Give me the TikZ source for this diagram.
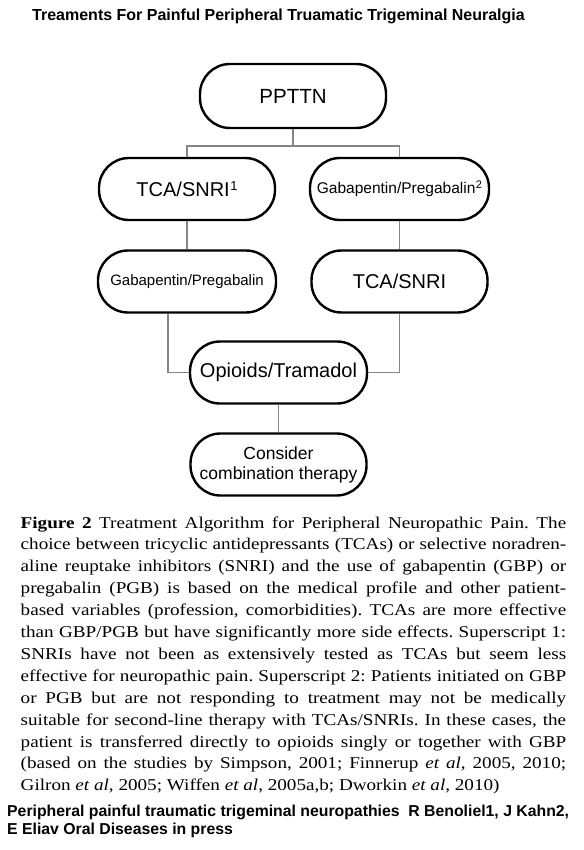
\documentclass[tikz,border=0pt]{standalone}
\usepackage{fontspec}
\setmainfont{Liberation Serif}
\newfontfamily\arialf{Liberation Sans}
\newfontfamily\capf[FakeStretch=1.16]{Liberation Serif}
\newcommand\jl[1]{\makebox[545.5pt][s]{#1}}
\newcommand\supnum[2]{\raisebox{#2}{\fontsize{#1}{#1}\selectfont 1}}
\newcommand\supnumtwo[2]{\raisebox{#2}{\fontsize{#1}{#1}\selectfont 2}}
\frenchspacing
\begin{document}
\begin{tikzpicture}[x=1pt,y=-1pt,
  pill/.style={draw=black, line width=2.4pt, rounded corners=30pt, fill=white,
    minimum height=62pt, inner sep=0pt, align=center,
    font=\arialf\fontsize{20}{24}\selectfont},
  conn/.style={draw=black!48, line width=1.3pt},
  sanstext/.style={anchor=base west, inner sep=0pt, font=\arialf\bfseries\fontsize{15.8}{18}\selectfont},
  captext/.style={anchor=base west, inner sep=0pt, font=\capf\fontsize{16.5}{20}\selectfont}]
\useasboundingbox (0,0) rectangle (583,850);
\fill[white] (0,0) rectangle (583,850);

\node[sanstext, font=\arialf\bfseries\fontsize{16}{18}\selectfont] (title) at (32,21) {Treaments For Painful Peripheral Truamatic Trigeminal Neuralgia};

\node[pill, minimum width=186pt, minimum height=64pt, font=\arialf\fontsize{20.5}{24}\selectfont] (ppttn) at (293,96) {PPTTN};
\node[pill, minimum width=176pt] (tca1) at (187,189) {TCA/SNRI\kern0.5pt\supnum{13}{6pt}};
\node[pill, minimum width=179pt, font=\arialf\fontsize{15.5}{18}\selectfont] (gab1) at (399.5,189) {Gabapentin/Pregabalin\kern0.5pt\supnumtwo{11}{4.5pt}};
\node[pill, minimum width=178pt, font=\arialf\fontsize{15}{18}\selectfont] (gab2) at (187,281.5) {Gabapentin/Pregabalin};
\node[pill, minimum width=176pt] (tca2) at (399.5,281.5) {TCA/SNRI};
\node[pill, minimum width=177pt] (opi) at (278.5,372.5) {Opioids/Tramadol};
\node[pill, minimum width=176pt, font=\arialf\fontsize{17.5}{20}\selectfont] (cons) at (278.5,464.5) {Consider\\combination therapy};

\coordinate (j1) at (293,146);
\draw[conn] (ppttn.south) -- (j1);
\draw[conn] (tca1.north) |- (j1) -| (gab1.north);
\draw[conn] (tca1.south) -- (gab2.north);
\draw[conn] (gab1.south) -- (tca2.north);
\draw[conn] ([xshift=-19pt]gab2.south) |- (opi.west);
\draw[conn] (tca2.south) |- (opi.east);
\draw[conn] (opi.south) -- (cons.north);

\node[captext] (c1) at (20.5,528) {\jl{\textbf{Figure 2} Treatment Algorithm for Peripheral Neuropathic Pain. The}};
\node[captext] (c2) at (20.5,549.9) {\jl{choice between tricyclic antidepressants (TCAs) or selective noradren-}};
\node[captext] (c3) at (20.5,571.8) {\jl{aline reuptake inhibitors (SNRI) and the use of gabapentin (GBP) or}};
\node[captext] (c4) at (20.5,593.7) {\jl{pregabalin (PGB) is based on the medical profile and other patient-}};
\node[captext] (c5) at (20.5,615.6) {\jl{based variables (profession, comorbidities). TCAs are more effective}};
\node[captext] (c6) at (20.5,637.5) {\jl{than GBP/PGB but have significantly more side effects. Superscript 1:}};
\node[captext] (c7) at (20.5,659.4) {\jl{SNRIs have not been as extensively tested as TCAs but seem less}};
\node[captext] (c8) at (20.5,681.3) {\jl{effective for neuropathic pain. Superscript 2: Patients initiated on GBP}};
\node[captext] (c9) at (20.5,703.2) {\jl{or PGB but are not responding to treatment may not be medically}};
\node[captext] (c10) at (20.5,725.1) {\jl{suitable for second-line therapy with TCAs/SNRIs. In these cases, the}};
\node[captext] (c11) at (20.5,747.0) {\jl{patient is transferred directly to opioids singly or together with GBP}};
\node[captext] (c12) at (20.5,768.9) {\jl{(based on the studies by Simpson, 2001; Finnerup \textit{et al}, 2005, 2010;}};
\node[captext] (c13) at (20.5,790.8) {Gilron \textit{et al}, 2005; Wiffen \textit{et al}, 2005a,b; Dworkin \textit{et al}, 2010)};

\node[sanstext] (ref1) at (7,816) {Peripheral painful traumatic trigeminal neuropathies\ \ R Benoliel1, J Kahn2,};
\node[sanstext] (ref2) at (7,834) {E Eliav Oral Diseases in press};
\end{tikzpicture}
\end{document}
